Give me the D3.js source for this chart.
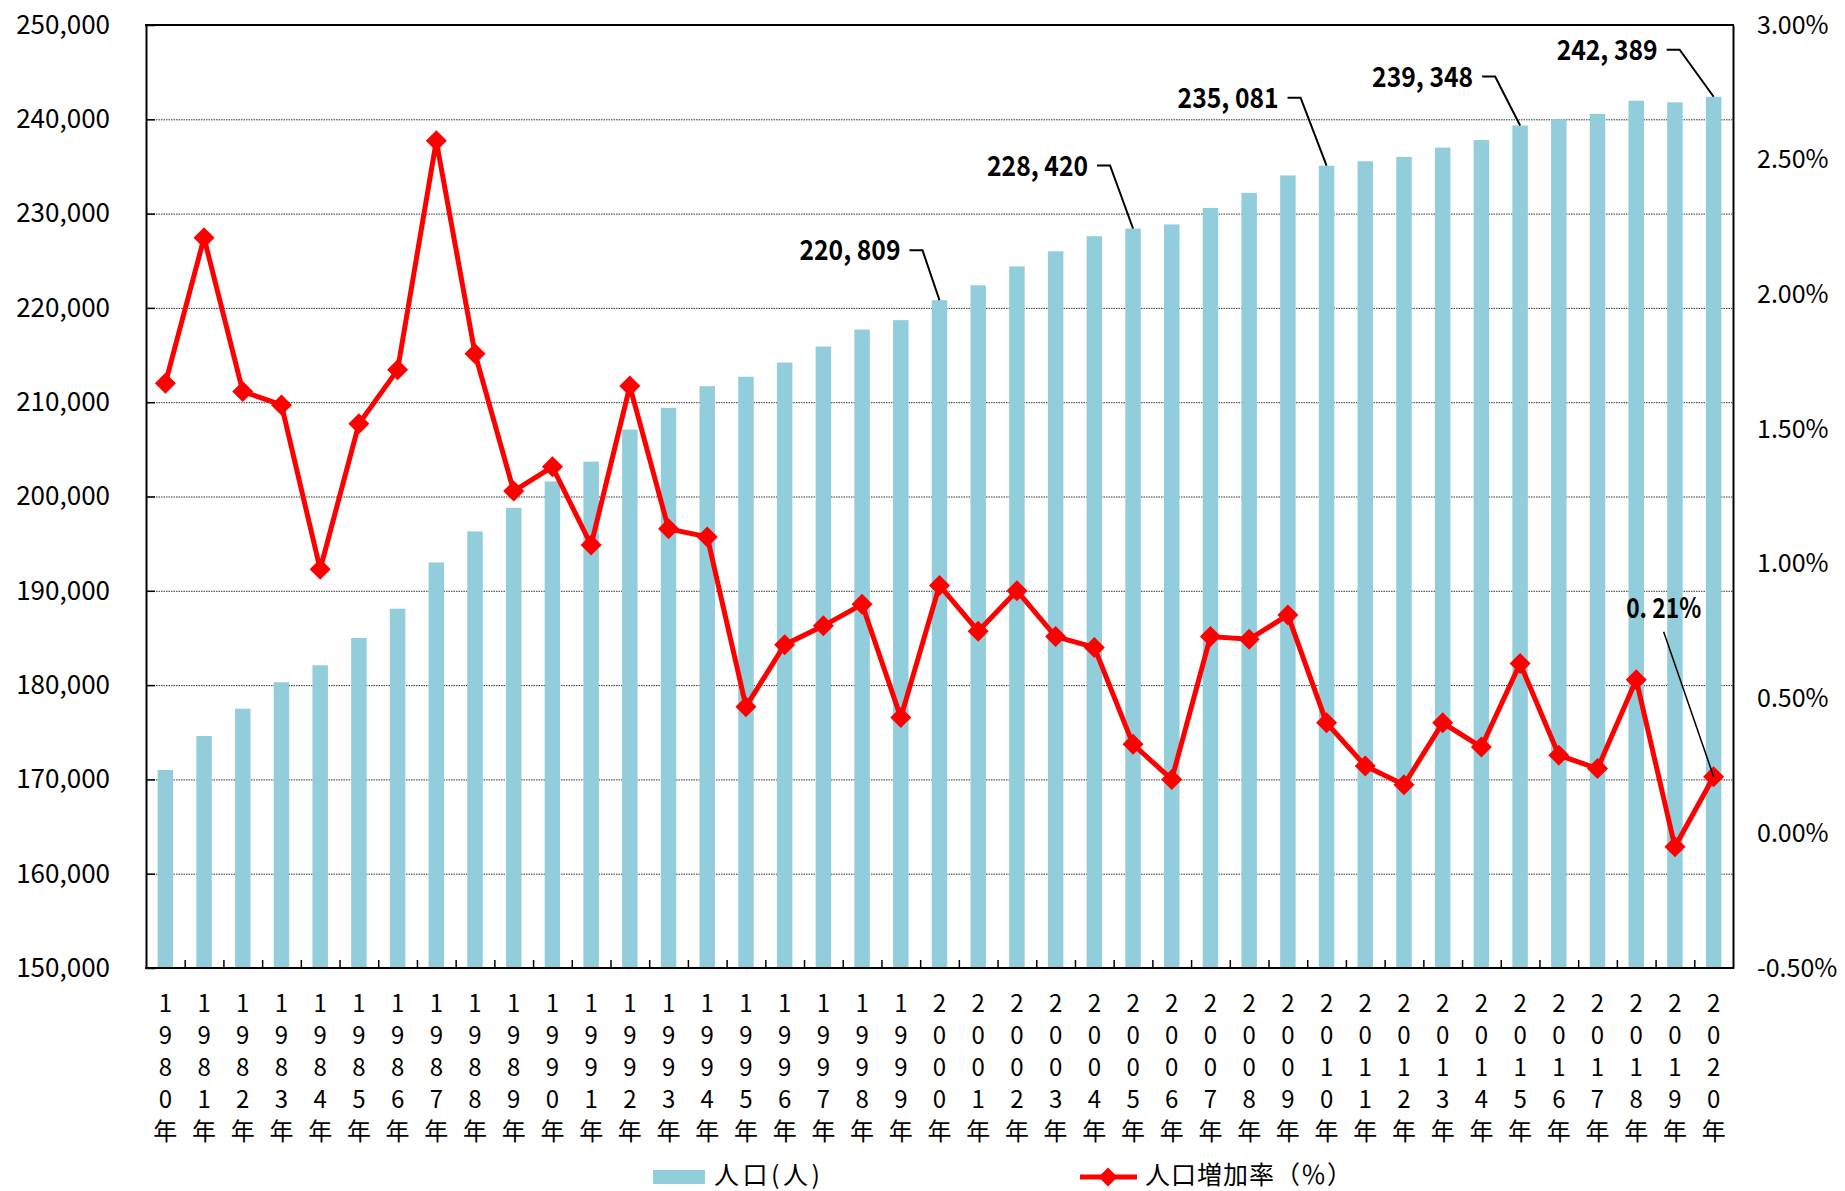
<!DOCTYPE html>
<html>
<head>
<meta charset="utf-8">
<script src="https://cdn.jsdelivr.net/npm/d3@7"></script>
<style>
  html, body { margin: 0; padding: 0; background: #fff; }
  svg { display: block; }
  text { font-family: "Noto Sans CJK JP", "Noto Sans", sans-serif; fill: #000; }
</style>
</head>
<body>
<svg id="chart" width="1845" height="1191"></svg>
<script>
// ---------------- data ----------------
const years = ["1980","1981","1982","1983","1984","1985","1986","1987","1988","1989",
               "1990","1991","1992","1993","1994","1995","1996","1997","1998","1999",
               "2000","2001","2002","2003","2004","2005","2006","2007","2008","2009",
               "2010","2011","2012","2013","2014","2015","2016","2017","2018","2019","2020"];

const population = [171000, 174600, 177500, 180300, 182100, 185000, 188100, 193000, 196300, 198800,
                    201600, 203700, 207100, 209400, 211700, 212700, 214200, 215900, 217700, 218700,
                    220809, 222400, 224400, 226000, 227600, 228420, 228850, 230600, 232200, 234050,
                    235081, 235550, 236020, 237000, 237800, 239348, 240000, 240580, 241970, 241800, 242389];

const growthRate = [1.67, 2.21, 1.64, 1.59, 0.98, 1.52, 1.72, 2.57, 1.78, 1.27,
                    1.36, 1.07, 1.66, 1.13, 1.10, 0.47, 0.70, 0.77, 0.85, 0.43,
                    0.92, 0.75, 0.90, 0.73, 0.69, 0.33, 0.20, 0.73, 0.72, 0.81,
                    0.41, 0.25, 0.18, 0.41, 0.32, 0.63, 0.29, 0.24, 0.57, -0.05, 0.21];

const leftTicks  = [150000, 160000, 170000, 180000, 190000, 200000, 210000, 220000, 230000, 240000, 250000];
const rightTicks = [-0.5, 0, 0.5, 1.0, 1.5, 2.0, 2.5, 3.0];

const labeledYears = ["2000", "2005", "2010", "2015", "2020"];
const labeledRateYears = ["2020"];

const seriesNames = ["人口(人)", "人口増加率（％）"];

// ---------------- layout ----------------
const plot = { left: 146, right: 1733, top: 25, bottom: 968 };
const barColor = "#92CDDC";
const lineColor = "#FF0000";

const svg = d3.select("#chart");

const x = d3.scaleBand().domain(years).range([plot.left, plot.right])
  .paddingInner(0.6).paddingOuter(0.3);
const xi = d3.scaleLinear().domain([0, years.length]).range([plot.left, plot.right]);
const y = d3.scaleLinear().domain([150000, 250000]).range([plot.bottom, plot.top]);
const y2 = d3.scaleLinear().domain([-0.5, 3.0]).range([plot.bottom, plot.top]);

const cx = d => x(d) + x.bandwidth() / 2;

// gridlines
svg.append("g")
  .selectAll("line")
  .data(leftTicks.filter(t => t > 150000 && t < 250000))
  .join("line")
  .attr("x1", plot.left).attr("x2", plot.right)
  .attr("y1", d => y(d) + 0.5).attr("y2", d => y(d) + 0.5)
  .attr("stroke", "#333").attr("stroke-width", 1)
  .attr("stroke-dasharray", "1.5,1");

// bars
svg.append("g")
  .selectAll("rect")
  .data(years)
  .join("rect")
  .attr("x", d => x(d))
  .attr("width", x.bandwidth())
  .attr("y", (d, i) => y(population[i]))
  .attr("height", (d, i) => plot.bottom - y(population[i]))
  .attr("fill", barColor);

// x ticks (category boundaries, inward)
const xTickAxis = d3.axisBottom(xi)
  .tickValues(d3.range(1, years.length))
  .tickSize(-8).tickSizeOuter(0).tickFormat("");
svg.append("g").attr("transform", `translate(0,${plot.bottom})`)
  .call(xTickAxis)
  .call(g => g.select(".domain").remove())
  .call(g => g.selectAll(".tick line").attr("stroke", "#000").attr("stroke-width", 1.5));

// x labels (vertical stacked characters)
const xAxis = d3.axisBottom(x).tickSize(0).tickPadding(0);
svg.append("g").attr("transform", `translate(0,${plot.bottom})`)
  .call(xAxis)
  .call(g => g.select(".domain").remove())
  .call(g => g.selectAll(".tick text").each(function(d) {
      const t = d3.select(this);
      t.text(null).attr("dy", null).attr("y", 0)
       .attr("font-size", 24)
       .attr("font-family", '"Noto Sans CJK JP", sans-serif');
      const chars = (d + "年").split("");
      chars.forEach((c, k) => {
        t.append("tspan").attr("x", 0).attr("y", 36 + k * 32 + 8).text(c);
      });
  }));

// left axis
const leftAxis = d3.axisLeft(y).tickValues(leftTicks)
  .tickFormat(d3.format(",")).tickSizeInner(-9).tickSizeOuter(0).tickPadding(36);
svg.append("g").attr("transform", `translate(${plot.left},0)`)
  .call(leftAxis)
  .call(g => g.select(".domain").attr("stroke", "#000").attr("stroke-width", 2))
  .call(g => g.selectAll(".tick line").attr("stroke", "#000").attr("stroke-width", 1.5))
  .call(g => g.selectAll(".tick text").attr("font-size", 26)
      .attr("font-family", '"Noto Sans CJK JP", sans-serif').attr("fill", "#000"));

// right axis
const rightAxis = d3.axisRight(y2).tickValues(rightTicks)
  .tickFormat(d => d.toFixed(2) + "%").tickSize(0).tickPadding(24);
svg.append("g").attr("transform", `translate(${plot.right},0)`)
  .call(rightAxis)
  .call(g => g.select(".domain").attr("stroke", "#000").attr("stroke-width", 2))
  .call(g => g.selectAll(".tick text").attr("font-size", 25)
      .attr("font-family", '"Noto Sans CJK JP", sans-serif').attr("fill", "#000"));

// top frame & bottom axis line
svg.append("line").attr("x1", plot.left - 1).attr("x2", plot.right + 1)
  .attr("y1", plot.top).attr("y2", plot.top)
  .attr("stroke", "#000").attr("stroke-width", 2);
svg.append("line").attr("x1", plot.left - 1).attr("x2", plot.right + 1)
  .attr("y1", plot.bottom).attr("y2", plot.bottom)
  .attr("stroke", "#000").attr("stroke-width", 2);

// growth line
svg.append("path")
  .datum(years)
  .attr("d", d3.line().x(d => cx(d)).y(d => y2(growthRate[years.indexOf(d)])))
  .attr("fill", "none").attr("stroke", lineColor).attr("stroke-width", 5)
  .attr("stroke-linejoin", "miter");

const diamond = r => `M0,${-r}L${r},0L0,${r}L${-r},0Z`;
svg.append("g")
  .selectAll("path")
  .data(years)
  .join("path")
  .attr("transform", (d, i) => `translate(${cx(d)},${y2(growthRate[i])})`)
  .attr("d", diamond(10.5))
  .attr("fill", lineColor);

// population annotations
const annOffsets = { "2000": [-17, -50], "2005": [-23, -63], "2010": [-26, -68], "2015": [-25, -49], "2020": [-34, -47] };
const annG = svg.append("g");
labeledYears.forEach(yr => {
  const i = years.indexOf(yr);
  const bx = cx(yr), by = y(population[i]);
  const [dx, dy] = annOffsets[yr];
  const ex = bx + dx, ey = by + dy;
  annG.append("path")
    .attr("d", `M${bx},${by}L${ex},${ey}L${ex - 13},${ey}`)
    .attr("fill", "none").attr("stroke", "#000").attr("stroke-width", 2);
  annG.append("text")
    .attr("x", ex - 22).attr("y", ey).attr("dy", "0.36em")
    .attr("text-anchor", "end")
    .attr("font-family", '"Liberation Sans Narrow", "Noto Sans CJK JP", sans-serif')
    .attr("font-weight", "bold").attr("font-size", 28)
    .attr("textLength", 101).attr("lengthAdjust", "spacingAndGlyphs")
    .text(d3.format(",")(population[i]).replace(",", ", "));
});

// growth annotation
labeledRateYears.forEach(yr => {
  const i = years.indexOf(yr);
  const px = cx(yr), py = y2(growthRate[i]);
  annG.append("line")
    .attr("x1", px).attr("y1", py).attr("x2", px - 50).attr("y2", py - 145)
    .attr("stroke", "#000").attr("stroke-width", 1.5);
  annG.append("text")
    .attr("x", px - 50).attr("y", py - 169).attr("dy", "0.36em")
    .attr("text-anchor", "middle")
    .attr("font-family", '"Liberation Sans Narrow", "Noto Sans CJK JP", sans-serif')
    .attr("font-weight", "bold").attr("font-size", 28)
    .attr("textLength", 75).attr("lengthAdjust", "spacingAndGlyphs")
    .text(growthRate[i].toFixed(2).replace(".", ". ") + "%");
});

// legend
const lg = svg.append("g");
lg.append("rect").attr("x", 653).attr("y", 1170).attr("width", 52).attr("height", 14).attr("fill", barColor);
lg.append("text").attr("x", 714).attr("y", 1175).attr("dy", "0.36em")
  .attr("font-size", 25).attr("textLength", 106).attr("lengthAdjust", "spacing")
  .text(seriesNames[0]);
lg.append("line").attr("x1", 1080).attr("x2", 1137).attr("y1", 1177).attr("y2", 1177)
  .attr("stroke", lineColor).attr("stroke-width", 5);
lg.append("path").attr("transform", "translate(1108,1177)").attr("d", diamond(9.5)).attr("fill", lineColor);
lg.append("text").attr("x", 1145).attr("y", 1175).attr("dy", "0.36em")
  .attr("font-size", 25).attr("textLength", 207).attr("lengthAdjust", "spacing")
  .text(seriesNames[1]);
</script>
</body>
</html>
